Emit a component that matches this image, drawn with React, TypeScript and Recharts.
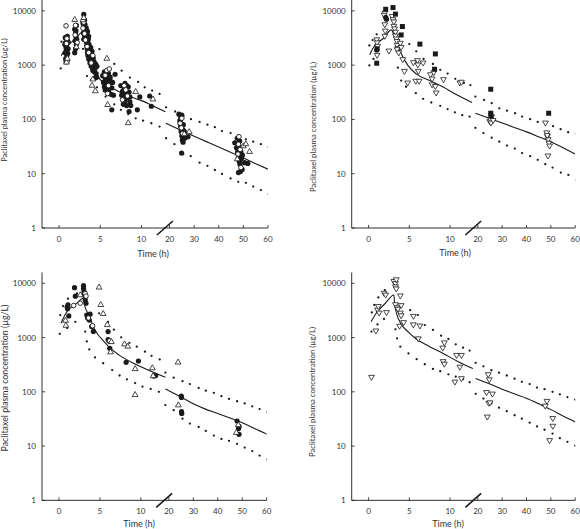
import { ScatterChart, Scatter, XAxis, YAxis, ReferenceLine } from 'recharts';

const TIME_TICKS = [0, 5, 10, 20, 30, 40, 50, 60];
const CONC_TICKS = [1, 10, 100, 1000, 10000];
const Y_TITLE = 'Paclitaxel plasma concentration (µg/L)';
const X_TITLE = 'Time (h)';

// broken time axis: 0-13 h at full scale, 18-60 h squeezed
const toAxis = (t: number) => (t <= 15 ? t : 13.41 + (t - 20) * 0.2988);
const X_DOMAIN = [-2.07, toAxis(60)];
const Y_DOMAIN = [1, 15849];
const BREAK_MARK = [{ x: 11.88, y: 0.743 }, { x: 13.82, y: 1.346 }];

type Pt = [number, number];

// ---- panel 1 (top left)
const p1Filled: Pt[] = [
  [0.75, 3200], [0.8, 2600], [0.85, 2100], [0.9, 1800], [0.95, 1500], [0.8, 1300], [1.0, 2900], [0.9, 2300],
  [1.05, 1650], [0.85, 1150], [1.0, 3400], [0.95, 1950], [0.7, 2400], [1.1, 2000], [0.75, 1700], [1.1, 2700],
  [1.9, 4600], [2.0, 3900], [2.05, 3300], [1.95, 2800], [2.1, 2400], [2.0, 2000], [1.9, 1700], [2.1, 5400],
  [2.05, 4300], [2.15, 3000],
  [2.9, 6000], [3.0, 8600], [3.0, 5200], [3.05, 4500], [2.95, 3900], [3.1, 3500], [3.0, 3000], [3.1, 6800],
  [3.15, 5600], [3.2, 4200], [3.25, 3300], [3.3, 2700], [3.35, 2300], [3.4, 2000], [3.45, 1700], [3.5, 1500],
  [3.5, 2600], [3.6, 1300], [3.7, 1900], [3.75, 1100], [3.8, 1600], [3.9, 950], [3.95, 1400], [4.0, 1200],
  [4.1, 800], [4.2, 1000], [4.3, 750], [4.35, 580], [4.4, 900],
  [3.3, 4800], [3.4, 3800], [3.45, 4200], [3.6, 3400], [3.55, 3000], [3.65, 2400], [3.7, 1400], [3.85, 2100],
  [3.9, 1250], [4.0, 1800], [4.05, 900], [4.15, 1350], [4.25, 1150], [4.3, 850], [4.45, 1050], [4.5, 700],
  [4.6, 950], [4.55, 600],
  [5.5, 750], [5.6, 560], [5.7, 430], [5.75, 650], [5.85, 380], [5.9, 520], [6.0, 700], [6.0, 330],
  [6.1, 460], [6.2, 600], [6.3, 290], [6.4, 150], [6.8, 680], [5.3, 640], [5.4, 480], [5.5, 400],
  [6.2, 520], [6.4, 380], [6.5, 480], [5.6, 350], [6.6, 280],
  [7.5, 420], [7.7, 330], [7.8, 260], [7.9, 380], [8.0, 220], [8.0, 460], [8.1, 300], [8.2, 180],
  [8.3, 250], [8.4, 400], [8.5, 140], [8.6, 210], [7.6, 280], [8.2, 420], [8.5, 320], [8.6, 260],
  [8.7, 180], [7.8, 190], [9.5, 150], [11.0, 270], [11.2, 175], [9.8, 260],
  [23.8, 125], [24.2, 95], [24.5, 75], [24.7, 60], [25.0, 50], [25.2, 42], [24.6, 110], [25.4, 65],
  [25.8, 55], [24.9, 24], [25.5, 38], [26.2, 45], [27.5, 48], [24.4, 90], [25.6, 80], [25.0, 120], [26.0, 60],
  [46.5, 37], [47.2, 30], [47.6, 25], [48.0, 20], [48.3, 17], [48.6, 15], [48.8, 11], [48.0, 10.5],
  [49.2, 19], [49.6, 22], [50.5, 16], [51.8, 15.5], [48.5, 40], [48.2, 32], [49.0, 25], [47.5, 45], [49.5, 12],
];
const p1Open: Pt[] = [
  [0.85, 5300], [0.9, 2500], [1.0, 1200], [0.95, 3100], [2.0, 5400], [1.95, 3600], [2.2, 2600], [2.9, 4800],
  [3.0, 6200], [3.1, 3800], [3.2, 2900], [3.4, 2200], [3.6, 1700], [3.9, 1100], [4.1, 1500], [5.6, 650],
  [5.8, 800], [6.0, 420], [6.1, 850], [5.9, 300], [7.9, 420], [8.1, 350], [8.3, 270], [7.7, 230],
  [24.3, 85], [24.8, 70], [25.3, 55], [25.0, 105], [48.2, 48], [48.0, 35], [48.7, 28], [47.8, 23], [49.0, 13],
];
const p1TriUp: Pt[] = [
  [0.9, 1150], [1.0, 1350], [1.9, 7000], [2.1, 2200], [2.9, 6900], [3.0, 7600], [4.0, 430], [4.1, 560],
  [4.4, 340], [5.8, 1350], [5.9, 190], [8.4, 88], [9.3, 330], [11.4, 240], [26, 55], [28, 60],
  [50, 33], [51, 36], [52.5, 26], [47.5, 19],
];
const p1Median1: Pt[] = [
  [0.25, 1500], [1, 2200], [2, 3100], [3, 4200], [3.3, 2600], [3.7, 1600], [4.2, 1000], [4.6, 680],
  [5, 540], [6, 410], [7, 340], [8, 290], [9, 250], [10, 222], [11, 190], [12, 160], [12.9, 138],
];
const p1Median2: Pt[] = [[18.5, 85], [25, 62], [30, 49], [35, 39], [40, 31], [45, 24.5], [50, 19.4], [55, 15.3], [60, 12.1]];
const p1Upper: Pt[] = [
  [0.3, 2700], [1, 3600], [2, 5000], [3, 7000], [4.9, 1970], [5.7, 1300], [6.7, 1055], [7.6, 790],
  [8.6, 590], [9.6, 490], [10.4, 390], [11.3, 340], [12.2, 295],
  [18.6, 167], [22.3, 140], [25.6, 113], [28.7, 101], [32.2, 90], [35.4, 80], [38.4, 72], [41.3, 61],
  [44.8, 56], [47.9, 50], [51, 43], [54, 39], [57.1, 35], [60.3, 31],
];
const p1Lower: Pt[] = [
  [0.2, 870], [1, 1100], [2, 1600], [2.9, 2000], [3.4, 630], [3.9, 535], [4.6, 390], [5.65, 264],
  [6.7, 190], [7.5, 150], [8.4, 125], [9.3, 105], [10.2, 95], [11.2, 85], [12.2, 74],
  [18.6, 45], [22, 35], [25.6, 23], [28.6, 21], [32.2, 16], [35.4, 14], [38.4, 11.7], [41.3, 9.9],
  [44.8, 8.2], [47.9, 7.1], [51, 6.8], [54, 5.8], [57.1, 5.0], [60.3, 4.2],
];

// ---- panel 2 (top right)
const p2Square: Pt[] = [
  [2.1, 10700], [3.0, 11500], [3.3, 8700], [4.15, 5140], [1.0, 1085], [1.05, 2000], [6.3, 2440], [8.2, 1610],
  [8.1, 840], [4.0, 3600], [25.3, 360], [25.3, 130], [25.4, 115], [49.1, 130],
];
const p2Filled: Pt[] = [[2.2, 7000], [2.1, 7600], [1.0, 1900]];
const p2TriDown: Pt[] = [
  [1.0, 2900], [1.05, 2540], [1.1, 2200], [1.05, 1500], [2.5, 1800], [2.0, 3370], [2.05, 4200], [2.0, 5500],
  [2.0, 9000], [1.9, 8200], [2.9, 7800], [3.0, 6800], [3.1, 6200], [3.1, 5140], [3.2, 4600], [3.3, 4000],
  [3.3, 3400], [3.4, 3000], [3.5, 2700], [3.5, 2300], [3.6, 2000], [3.5, 1910], [3.7, 1660], [3.9, 2500],
  [4.0, 2100], [4.2, 1250], [4.4, 760], [4.8, 464], [5.8, 500], [6.2, 500], [6.0, 1200], [6.05, 1000],
  [6.1, 760], [6.7, 1085], [5.5, 1100], [7.6, 660], [7.8, 550], [7.8, 430], [8.2, 400], [8.3, 304],
  [8.0, 720], [9.2, 535], [11.2, 464], [11.4, 480],
  [24.9, 90], [25.1, 100], [25.4, 85], [25.7, 110], [26.3, 95],
  [47.8, 85], [48.3, 56], [48.6, 48], [48.9, 42], [49.2, 36], [49.5, 32], [48.8, 21], [48.5, 50],
];
const p2Median1: Pt[] = [
  [0.15, 1550], [0.5, 2000], [1, 2500], [1.8, 3100], [2.8, 4470], [3.3, 2900], [3.8, 1900], [4.8, 1000],
  [5.85, 690], [7.5, 520], [9.1, 400], [10.7, 290], [12.7, 205],
];
const p2Median2: Pt[] = [[19, 130], [25, 104], [30, 86], [35, 71], [40, 59], [45, 48], [50, 39], [55, 30], [60, 23]];
const p2Upper: Pt[] = [
  [0.1, 2300], [0.5, 2900], [1.0, 3700], [5.0, 2440], [5.85, 1800], [6.75, 1300], [7.9, 1050], [8.8, 820],
  [9.7, 700], [10.65, 560], [11.7, 470], [12.5, 430],
  [19, 264], [22.6, 229], [25.7, 199], [28.8, 160], [32, 145], [35.3, 130], [38.2, 113], [41.5, 101],
  [44.6, 90], [47.7, 85], [50.9, 75], [54, 66], [57.1, 58], [60.4, 54],
];
const p2Lower: Pt[] = [
  [0.1, 990], [0.6, 1300], [3.6, 900], [4.0, 520], [4.6, 400], [5.8, 304], [6.7, 240], [7.7, 205],
  [8.8, 178], [9.7, 155], [10.6, 135], [11.5, 120], [12.4, 113],
  [19, 70], [22.3, 56], [25.7, 46], [28.8, 39], [32, 33], [35.2, 29], [38.2, 24], [41.5, 21],
  [44.6, 18], [47.7, 15], [50.7, 13], [54.1, 10.5], [57.2, 9.5], [60.4, 7.7],
];

// ---- panel 3 (bottom left)
const p3Filled: Pt[] = [
  [1.9, 8300], [3.0, 9060], [3.0, 8000], [3.05, 7000], [2.0, 5800], [1.1, 4000], [1.0, 3700], [1.05, 3400],
  [1.2, 2500], [3.1, 6000], [3.2, 5000], [3.3, 4300], [3.4, 2600], [3.5, 2300], [3.7, 2100], [3.8, 2700],
  [4.0, 1600], [4.2, 1300], [6.0, 1290], [6.0, 920], [6.2, 635], [8.2, 350], [9.7, 370], [11.6, 195],
  [11.8, 200], [25.2, 79], [25.1, 83], [25.2, 43], [25.3, 40], [47.9, 29], [48.7, 23], [48.7, 16.5], [48.5, 21],
];
const p3TriUp: Pt[] = [
  [4.9, 8600], [5.1, 4100], [5.4, 2800], [5.9, 1750], [6.4, 850], [6.3, 550], [8.0, 770], [8.4, 700],
  [9.3, 270], [9.3, 90], [11.4, 280], [11.5, 200], [23.8, 357], [23.9, 58], [47.6, 18], [48.4, 25],
  [0.8, 2100], [0.85, 1700], [2.6, 6200],
];
const p3Open: Pt[] = [[1.8, 3900], [2.6, 4300], [3.2, 6500], [3.3, 5800], [3.6, 2300], [4.1, 1650], [6.1, 860], [6.2, 870]];
const p3Median1: Pt[] = [
  [0.25, 1840], [0.9, 2900], [2.2, 4300], [2.95, 5300], [3.2, 3600], [3.6, 2700], [4.4, 1380], [5.65, 800],
  [6.2, 650], [7.3, 480], [9.3, 325], [11.3, 236], [13.0, 185],
];
const p3Median2: Pt[] = [[18.6, 113], [25, 80], [30, 60], [35, 48], [40, 40], [45, 33], [50, 27], [55, 21], [60.3, 16.4]];
const p3Upper: Pt[] = [
  [0.16, 2600], [0.5, 3800], [1.1, 5200], [2.2, 6500], [3.0, 8500], [4.9, 2800], [6.0, 1950], [6.7, 1400],
  [7.6, 1010], [8.6, 800], [9.5, 680], [10.5, 550], [11.3, 460], [12.3, 395],
  [18.6, 226], [22, 182], [25.6, 157], [28.6, 139], [32.2, 118], [35.1, 105], [38.4, 96], [41.5, 83],
  [44.6, 74], [47.9, 67], [51, 61], [54.1, 54], [57.1, 48], [60.3, 42],
];
const p3Lower: Pt[] = [
  [0.1, 1170], [1, 1500], [2, 1950], [3.2, 1290], [3.4, 850], [3.7, 605], [4.4, 430], [5.4, 336],
  [6.5, 252], [7.4, 200], [8.3, 170], [9.3, 145], [10.2, 125], [11.2, 113], [12.2, 100],
  [18.6, 57], [22, 46], [25.6, 32], [28.6, 26], [32.2, 22.5], [35.1, 19], [38.4, 15.6], [41.5, 13.5],
  [44.6, 12.5], [47.9, 11], [51, 9.4], [54.1, 8.1], [57.1, 6.7], [60.3, 5.7],
];

// ---- panel 4 (bottom right)
const p4TriDown: Pt[] = [
  [0.36, 183], [0.9, 1310], [1.1, 3200], [1.3, 2800], [1.2, 3700], [1.9, 6500], [2.1, 6000], [2.2, 2860],
  [3.1, 10700], [3.3, 9800], [3.4, 11500], [3.3, 8500], [3.4, 7800], [3.9, 5800], [4.0, 3840], [3.3, 4000],
  [3.9, 2800], [3.5, 3500], [3.6, 3300], [4.0, 2500], [4.3, 1870], [3.8, 1600], [5.5, 2440], [5.5, 1700],
  [6.3, 1620], [6.1, 940], [9.1, 635], [9.3, 790], [9.15, 357], [9.3, 320], [10.8, 464], [11.4, 464],
  [11.2, 282], [10.6, 150], [11.4, 173],
  [24.3, 205], [24.7, 165], [23.6, 96], [26, 90], [24.5, 61], [25, 62], [23.9, 34],
  [48.4, 66], [47.7, 54], [50.8, 32], [50.8, 23], [49.5, 12.5],
];
const p4Median1: Pt[] = [
  [0.3, 1950], [1, 2900], [2, 4200], [3.1, 6100], [3.2, 4200], [3.5, 2600], [3.9, 1870], [4.8, 1300],
  [5.9, 930], [7.5, 680], [9.15, 510], [11, 360], [12.8, 270],
];
const p4Median2: Pt[] = [[19.1, 177], [25, 140], [30, 112], [35, 92], [40, 76], [45, 60], [50, 47], [55, 36], [60, 28]];
const p4Upper: Pt[] = [
  [0.4, 2900], [0.7, 4000], [1.2, 5500], [2.0, 7500], [5.1, 3200], [6.05, 2600], [6.9, 1700], [7.9, 1380],
  [8.9, 1085], [9.8, 940], [10.7, 750], [11.6, 650], [12.4, 575],
  [19.1, 343], [22.3, 295], [25.6, 250], [28.7, 225], [31.9, 200], [35.1, 175], [38.1, 153], [41.3, 139],
  [44.3, 120], [47.4, 112], [50.7, 100], [53.7, 90], [56.8, 80], [60, 72],
];
const p4Lower: Pt[] = [
  [0.36, 1290], [1.1, 1750], [1.9, 2200], [3.3, 1420], [3.5, 970], [3.9, 680], [4.9, 510], [5.9, 400],
  [6.9, 322], [7.9, 264], [8.8, 240], [9.8, 210], [10.7, 190], [11.6, 172], [12.4, 150],
  [19.1, 92], [22.3, 75], [25.6, 61], [28.7, 51], [31.9, 44], [35.1, 37], [38.1, 32], [41.3, 27],
  [44.3, 23], [47.4, 20], [50.7, 17], [53.7, 14], [56.8, 12], [60, 10.2],
];

const INK = '#1a1a1a';
const FONT = 'Lato, "DejaVu Sans", sans-serif';

const pts = (a: Pt[]) => a.map(([t, v]) => ({ x: toAxis(t), y: v }));

const dotShape = (p: any) => <circle cx={p.cx} cy={p.cy} r={1.15} fill={INK} />;
const filledShape = (p: any) => <circle cx={p.cx} cy={p.cy} r={2.6} fill={INK} />;
const openShape = (p: any) => <circle cx={p.cx} cy={p.cy} r={2.3} fill="#fff" stroke={INK} strokeWidth={0.9} />;
const squareShape = (p: any) => <rect x={p.cx - 2.5} y={p.cy - 2.5} width={5} height={5} fill={INK} />;
const triUpShape = (p: any) => (
  <polygon points={`${p.cx},${p.cy - 2.8} ${p.cx - 2.9},${p.cy + 2.2} ${p.cx + 2.9},${p.cy + 2.2}`} fill="#fff" stroke={INK} strokeWidth={0.8} />
);
const triDownShape = (p: any) => (
  <polygon points={`${p.cx},${p.cy + 2.8} ${p.cx - 2.9},${p.cy - 2.2} ${p.cx + 2.9},${p.cy - 2.2}`} fill="#fff" stroke={INK} strokeWidth={0.8} />
);
const noShape = () => <g />;

function TimeTick({ x, y, payload }: any) {
  const i = TIME_TICKS.findIndex((t) => Math.abs(toAxis(t) - payload.value) < 1e-6);
  return (
    <g>
      <line x1={x} y1={y} x2={x} y2={y - 3} stroke={INK} strokeWidth={0.8} />
      <text x={x} y={y + 14} textAnchor="middle" fontSize={8} fontFamily={FONT} fill="#333">
        {TIME_TICKS[i]}
      </text>
    </g>
  );
}

function ConcTick({ x, y, payload }: any) {
  return (
    <g>
      <line x1={x} y1={y} x2={x + 3} y2={y} stroke={INK} strokeWidth={0.8} />
      <text x={x - 6} y={y + 3} textAnchor="end" fontSize={8} fontFamily={FONT} fill="#333">
        {payload.value}
      </text>
    </g>
  );
}

type Series = { shape: (p: any) => any; data: Pt[] };

type PanelProps = {
  left: number;
  top: number;
  axisW: number;
  mRight: number;
  mTop: number;
  xAxisH: number;
  yTitle: { x: number; y: number; size: number };
  xTitle: { x: number; y: number };
  upper: Pt[];
  lower: Pt[];
  median1: Pt[];
  median2: Pt[];
  marks: Series[];
};

const titleStyle = (x: number, y: number, size: number, rotate: boolean): React.CSSProperties => ({
  position: 'absolute',
  left: x,
  top: y,
  transform: `translate(-50%, -50%)${rotate ? ' rotate(-90deg)' : ''}`,
  whiteSpace: 'nowrap',
  fontSize: size,
  lineHeight: 1,
  fontFamily: FONT,
  color: '#333',
});

function Panel(p: PanelProps) {
  return (
    <div style={{ position: 'absolute', left: p.left, top: p.top, width: 290, height: 264 }}>
      <ScatterChart width={290} height={264} margin={{ top: p.mTop, right: p.mRight, bottom: 0, left: 0 }}>
        <XAxis
          type="number"
          dataKey="x"
          domain={X_DOMAIN}
          ticks={TIME_TICKS.map(toAxis)}
          interval={0}
          allowDataOverflow
          height={p.xAxisH}
          tickLine={false}
          tickSize={0}
          tickMargin={0}
          tick={<TimeTick />}
          axisLine={{ stroke: INK, strokeWidth: 0.9 }}
        />
        <YAxis
          type="number"
          dataKey="y"
          scale="log"
          domain={Y_DOMAIN}
          ticks={CONC_TICKS}
          interval={0}
          allowDataOverflow
          width={p.axisW}
          tickLine={false}
          tickSize={0}
          tickMargin={0}
          tick={<ConcTick />}
          axisLine={{ stroke: INK, strokeWidth: 0.9 }}
        />
        <Scatter data={pts(p.upper)} shape={dotShape} isAnimationActive={false} />
        <Scatter data={pts(p.lower)} shape={dotShape} isAnimationActive={false} />
        <Scatter
          data={pts(p.median1)}
          shape={noShape}
          line={{ stroke: INK, strokeWidth: 1.1 }}
          lineJointType="monotoneX"
          isAnimationActive={false}
        />
        <Scatter
          data={pts(p.median2)}
          shape={noShape}
          line={{ stroke: INK, strokeWidth: 1.1 }}
          lineJointType="monotoneX"
          isAnimationActive={false}
        />
        {p.marks.map((m, i) => (
          <Scatter key={i} data={pts(m.data)} shape={m.shape} isAnimationActive={false} />
        ))}
        <ReferenceLine segment={BREAK_MARK} stroke={INK} strokeWidth={1.6} ifOverflow="visible" />
      </ScatterChart>
      <div style={titleStyle(p.yTitle.x, p.yTitle.y, p.yTitle.size, true)}>{Y_TITLE}</div>
      <div style={titleStyle(p.xTitle.x, p.xTitle.y, 9, false)}>{X_TITLE}</div>
    </div>
  );
}

export default function App() {
  return (
    <div style={{ position: 'absolute', left: 0, top: 0, width: 580, height: 529, background: '#fff' }}>
      <Panel
        left={0}
        top={0}
        axisW={42}
        mRight={22}
        mTop={0}
        xAxisH={36}
        yTitle={{ x: 5, y: 100, size: 7.4 }}
        xTitle={{ x: 153, y: 253 }}
        upper={p1Upper}
        lower={p1Lower}
        median1={p1Median1}
        median2={p1Median2}
        marks={[
          { shape: filledShape, data: p1Filled },
          { shape: openShape, data: p1Open },
          { shape: triUpShape, data: p1TriUp },
        ]}
      />
      <Panel
        left={290}
        top={0}
        axisW={61.7}
        mRight={4.8}
        mTop={0}
        xAxisH={36}
        yTitle={{ x: 24, y: 127, size: 7.8 }}
        xTitle={{ x: 165, y: 252 }}
        upper={p2Upper}
        lower={p2Lower}
        median1={p2Median1}
        median2={p2Median2}
        marks={[
          { shape: triDownShape, data: p2TriDown },
          { shape: filledShape, data: p2Filled },
          { shape: squareShape, data: p2Square },
        ]}
      />
      <Panel
        left={0}
        top={265}
        axisW={42}
        mRight={23.3}
        mTop={7.45}
        xAxisH={28.65}
        yTitle={{ x: 5, y: 113, size: 8.8 }}
        xTitle={{ x: 139, y: 258 }}
        upper={p3Upper}
        lower={p3Lower}
        median1={p3Median1}
        median2={p3Median2}
        marks={[
          { shape: filledShape, data: p3Filled },
          { shape: openShape, data: p3Open },
          { shape: triUpShape, data: p3TriUp },
        ]}
      />
      <Panel
        left={290}
        top={265}
        axisW={61.7}
        mRight={4.8}
        mTop={7.45}
        xAxisH={28.65}
        yTitle={{ x: 23, y: 127, size: 7.8 }}
        xTitle={{ x: 158, y: 258 }}
        upper={p4Upper}
        lower={p4Lower}
        median1={p4Median1}
        median2={p4Median2}
        marks={[{ shape: triDownShape, data: p4TriDown }]}
      />
    </div>
  );
}
